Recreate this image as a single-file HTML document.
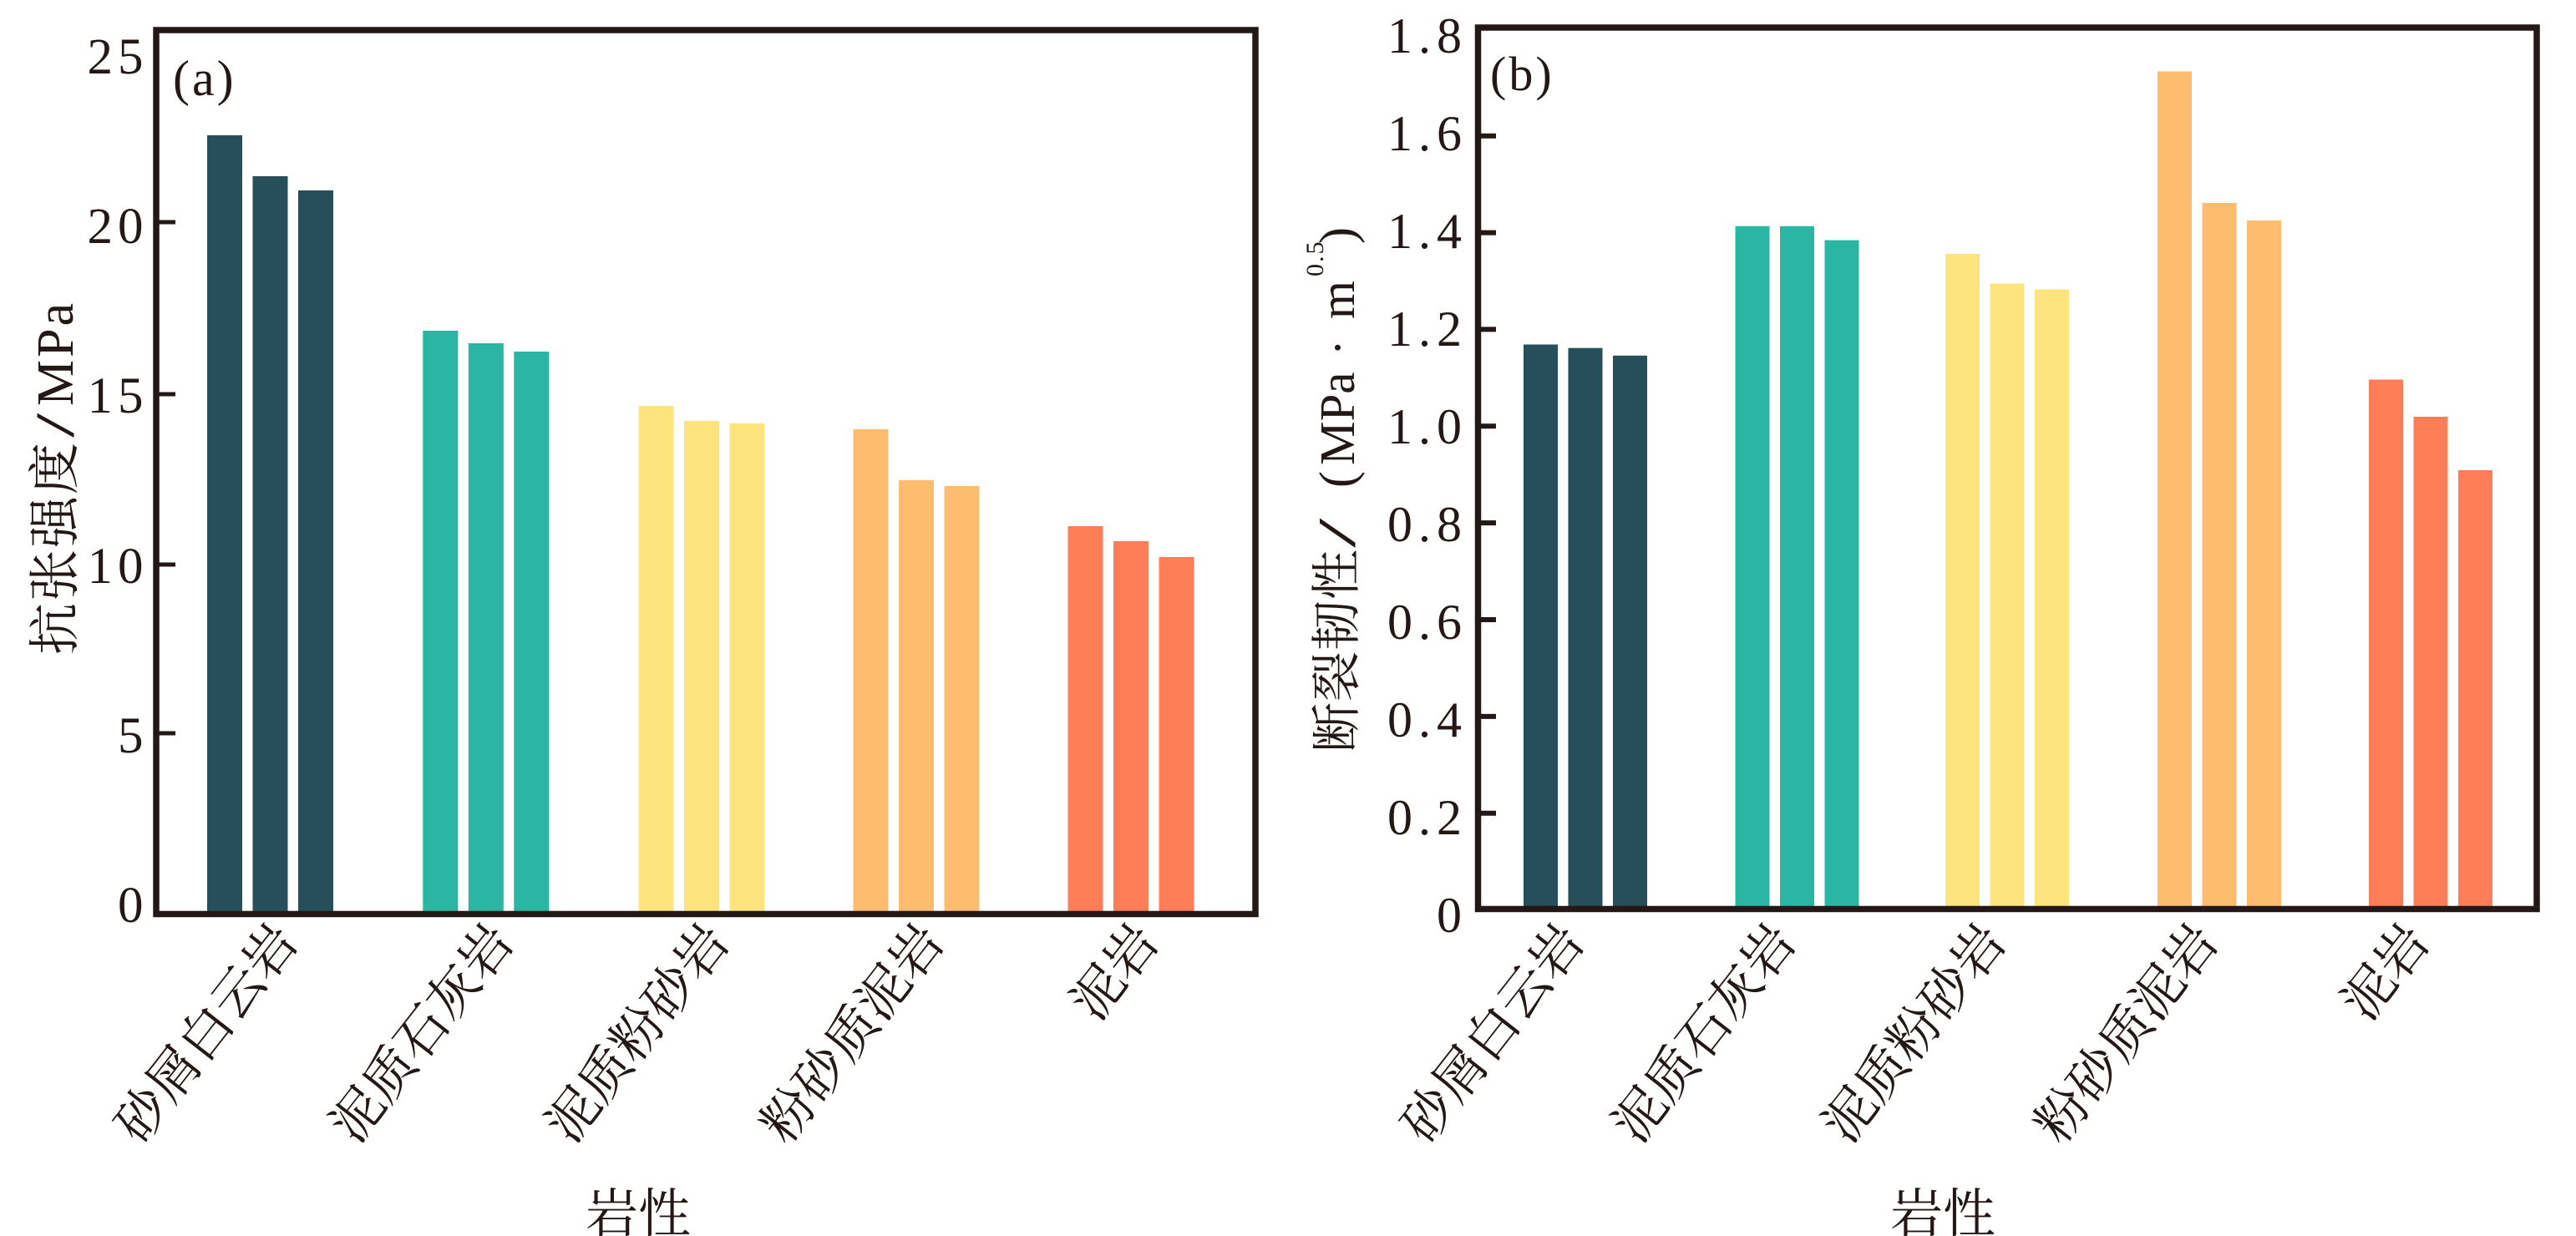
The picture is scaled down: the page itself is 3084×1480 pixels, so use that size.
<!DOCTYPE html>
<html>
<head>
<meta charset="utf-8">
<style>
  html, body { margin:0; padding:0; background:#ffffff; }
  svg { display:block; }
  text { font-family: "Liberation Serif", "Noto Serif CJK SC", serif; fill:#231815; }
</style>
</head>
<body>
<svg width="3084" height="1480" viewBox="0 0 3084 1480" xmlns="http://www.w3.org/2000/svg">
  <rect x="0" y="0" width="3084" height="1480" fill="#ffffff"/>

  <!-- ===== Panel (a) bars ===== -->
  <g>
    <rect x="248" y="162" width="42" height="929" fill="#264E5B"/>
    <rect x="302.5" y="211" width="42" height="880" fill="#264E5B"/>
    <rect x="357" y="228" width="42" height="863" fill="#264E5B"/>

    <rect x="506.3" y="396" width="42" height="695" fill="#2AB6A2"/>
    <rect x="560.8" y="411" width="42" height="680" fill="#2AB6A2"/>
    <rect x="615.3" y="421" width="42" height="670" fill="#2AB6A2"/>

    <rect x="764.5" y="486" width="42" height="605" fill="#FDE47C"/>
    <rect x="819" y="504" width="42" height="587" fill="#FDE47C"/>
    <rect x="873.5" y="507" width="42" height="584" fill="#FDE47C"/>

    <rect x="1021.5" y="514" width="42" height="577" fill="#FEBC6F"/>
    <rect x="1076" y="575" width="42" height="516" fill="#FEBC6F"/>
    <rect x="1130.5" y="582" width="42" height="509" fill="#FEBC6F"/>

    <rect x="1278.5" y="630" width="42" height="461" fill="#FE7E5A"/>
    <rect x="1333" y="648" width="42" height="443" fill="#FE7E5A"/>
    <rect x="1387.5" y="667" width="42" height="424" fill="#FE7E5A"/>
  </g>

  <!-- Panel (a) frame & ticks -->
  <rect x="187" y="36" width="1316" height="1058.5" fill="none" stroke="#231815" stroke-width="7.5"/>
  <g stroke="#231815" stroke-width="5">
    <line x1="187" y1="266" x2="210" y2="266"/>
    <line x1="187" y1="472" x2="210" y2="472"/>
    <line x1="187" y1="676" x2="210" y2="676"/>
    <line x1="187" y1="878" x2="210" y2="878"/>
  </g>
  <g font-size="61" text-anchor="end" letter-spacing="6">
    <text x="177.5" y="88">25</text>
    <text x="177.5" y="291">20</text>
    <text x="177.5" y="494">15</text>
    <text x="177.5" y="698">10</text>
    <text x="177.5" y="901">5</text>
    <text x="177.5" y="1104">0</text>
  </g>
  <text x="207" y="114" font-size="60" letter-spacing="3">(a)</text>

  <!-- Panel (a) y label -->
  <text transform="translate(87,784) rotate(-90)" font-size="62" letter-spacing="2">抗张强度</text>
  <text transform="translate(88,524) rotate(-90) scale(1.6,1)" font-size="66">/</text>
  <text transform="translate(87,486) rotate(-90)" font-size="62" letter-spacing="3">MPa</text>

  <!-- Panel (a) x labels -->
  <g font-size="62" text-anchor="end">
    <text transform="translate(359,1128) rotate(-52)">砂屑白云岩</text>
    <text transform="translate(617.3,1128) rotate(-52)">泥质石灰岩</text>
    <text transform="translate(875.5,1128) rotate(-52)">泥质粉砂岩</text>
    <text transform="translate(1132.5,1128) rotate(-52)">粉砂质泥岩</text>
    <text transform="translate(1389.5,1128) rotate(-52)">泥岩</text>
  </g>
  <text x="764" y="1475" font-size="63" text-anchor="middle">岩性</text>

  <!-- ===== Panel (b) bars ===== -->
  <g>
    <rect x="1824" y="412.5" width="41" height="673.5" fill="#264E5B"/>
    <rect x="1877.5" y="416.7" width="41" height="669.3" fill="#264E5B"/>
    <rect x="1931" y="425.8" width="41" height="660.2" fill="#264E5B"/>

    <rect x="2077.5" y="270.8" width="41" height="815.2" fill="#2AB6A2"/>
    <rect x="2131" y="270.8" width="41" height="815.2" fill="#2AB6A2"/>
    <rect x="2184.5" y="287.6" width="41" height="798.4" fill="#2AB6A2"/>

    <rect x="2329" y="304" width="41" height="782" fill="#FDE47C"/>
    <rect x="2382.5" y="339.5" width="41" height="746.5" fill="#FDE47C"/>
    <rect x="2436" y="346.5" width="41" height="739.5" fill="#FDE47C"/>

    <rect x="2583" y="85.5" width="41" height="1000.5" fill="#FEBC6F"/>
    <rect x="2636.5" y="243" width="41" height="843" fill="#FEBC6F"/>
    <rect x="2690" y="264" width="41" height="822" fill="#FEBC6F"/>

    <rect x="2836" y="454.5" width="41" height="631.5" fill="#FE7E5A"/>
    <rect x="2889.5" y="499" width="41" height="587" fill="#FE7E5A"/>
    <rect x="2943" y="563" width="41" height="523" fill="#FE7E5A"/>
  </g>

  <!-- Panel (b) frame & ticks -->
  <rect x="1769.5" y="33" width="1267.5" height="1055.5" fill="none" stroke="#231815" stroke-width="7.5"/>
  <g stroke="#231815" stroke-width="6">
    <line x1="1769" y1="162.7" x2="1791" y2="162.7"/>
    <line x1="1769" y1="278.6" x2="1791" y2="278.6"/>
    <line x1="1769" y1="394.4" x2="1791" y2="394.4"/>
    <line x1="1769" y1="510.3" x2="1791" y2="510.3"/>
    <line x1="1769" y1="626.1" x2="1791" y2="626.1"/>
    <line x1="1769" y1="742" x2="1791" y2="742"/>
    <line x1="1769" y1="857.9" x2="1791" y2="857.9"/>
    <line x1="1769" y1="973.7" x2="1791" y2="973.7"/>
  </g>
  <g font-size="60" text-anchor="end" letter-spacing="7">
    <text x="1757" y="63">1.8</text>
    <text x="1757" y="180">1.6</text>
    <text x="1757" y="297">1.4</text>
    <text x="1757" y="414">1.2</text>
    <text x="1757" y="531">1.0</text>
    <text x="1757" y="648">0.8</text>
    <text x="1757" y="765">0.6</text>
    <text x="1757" y="882">0.4</text>
    <text x="1757" y="999">0.2</text>
    <text x="1757" y="1116">0</text>
  </g>
  <text x="1784" y="108" font-size="58" letter-spacing="3">(b)</text>

  <!-- Panel (b) y label -->
  <text transform="translate(1621,901) rotate(-90)" font-size="60" letter-spacing="1">断裂韧性</text>
  <text transform="translate(1622,656) rotate(-90) scale(2.0,1)" font-size="64">/</text>
  <text transform="translate(1621,584) rotate(-90)" font-size="60">(</text>
  <text transform="translate(1621,557) rotate(-90)" font-size="59">MPa</text>
  <text transform="translate(1621,426) rotate(-90)" font-size="59">·</text>
  <text transform="translate(1621,382) rotate(-90)" font-size="59">m</text>
  <text transform="translate(1584,331) rotate(-90)" font-size="30" letter-spacing="2">0.5</text>
  <text transform="translate(1621,292) rotate(-90)" font-size="60">)</text>

  <!-- Panel (b) x labels -->
  <g font-size="62" text-anchor="end">
    <text transform="translate(1899,1128) rotate(-52)">砂屑白云岩</text>
    <text transform="translate(2152.5,1128) rotate(-52)">泥质石灰岩</text>
    <text transform="translate(2404,1128) rotate(-52)">泥质粉砂岩</text>
    <text transform="translate(2658,1128) rotate(-52)">粉砂质泥岩</text>
    <text transform="translate(2911,1128) rotate(-52)">泥岩</text>
  </g>
  <text x="2326" y="1475" font-size="63" text-anchor="middle">岩性</text>
</svg>
</body>
</html>
